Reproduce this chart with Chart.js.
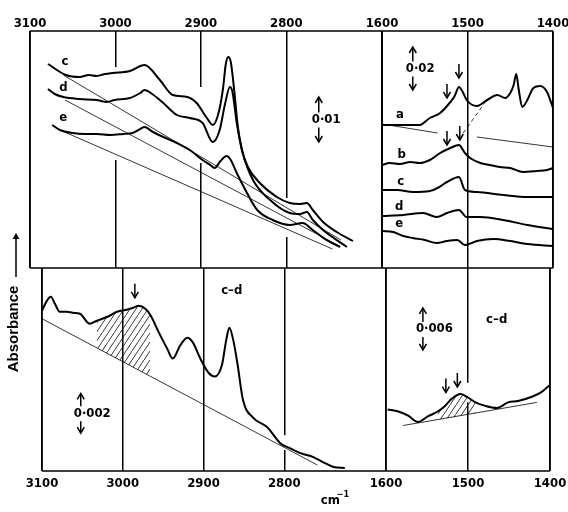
<!DOCTYPE html>
<html>
<head>
<meta charset="utf-8">
<title>IR difference spectra</title>
<script src="https://cdn.jsdelivr.net/npm/chart.js@4.4.1/dist/chart.umd.min.js"></script>
<style>
    body { margin: 0; background: #fff; }
    #wrap { position: relative; width: 568px; height: 512px; background: #fff; }
    #wrap canvas { position: absolute; left: 0; top: 0; }
</style>
</head>
<body>
<div id="wrap">
    <canvas id="tl" width="568" height="512"></canvas>
    <canvas id="tr" width="568" height="512"></canvas>
    <canvas id="bl" width="568" height="512"></canvas>
    <canvas id="br" width="568" height="512"></canvas>
</div>
<script>
// wavenumbers (cm-1) and absorbance (arbitrary units)

// top left: 3100-2700 region, spectra c, d, e
const tlTicks = [3100, 3000, 2900, 2800];
const cWn = [3079, 3058, 3042, 3031, 3022, 3012, 3003, 2983, 2966, 2948, 2933, 2916, 2905, 2893, 2886, 2879, 2874, 2871, 2868, 2865, 2861, 2857, 2852, 2845, 2831, 2811, 2796, 2784, 2776, 2769, 2757, 2741, 2722];
const cAbs = [51, 48.25, 47.75, 48.25, 48, 48.5, 48.75, 49.25, 50.75, 47, 43.25, 42.75, 41.25, 37.5, 35.75, 39, 45, 50.75, 52.75, 51.5, 44.5, 35.75, 29.5, 25.25, 21.25, 17.75, 16.25, 16, 16.25, 14.5, 11.5, 9, 6.75];
const dWn = [3079, 3071, 3061, 3042, 3022, 3010, 3001, 2983, 2971, 2966, 2957, 2944, 2928, 2913, 2898, 2886, 2878, 2872, 2866, 2863, 2858, 2851, 2839, 2819, 2796, 2784, 2776, 2769, 2757, 2729];
const dAbs = [44.75, 43.5, 42.75, 42.25, 42, 41.5, 42, 42.5, 43.75, 44.5, 43.5, 41.25, 38.25, 37.5, 36.25, 31.5, 34.5, 40.75, 45.25, 44, 36.25, 28.75, 22, 17, 13.75, 13.5, 14, 12, 9.5, 5.25];
const eWn = [3074, 3065, 3050, 3036, 3022, 3006, 2991, 2980, 2971, 2966, 2956, 2944, 2928, 2913, 2898, 2889, 2884, 2877, 2870, 2865, 2858, 2846, 2834, 2816, 2796, 2781, 2769, 2753, 2737];
const eAbs = [35.75, 34.5, 33.75, 33.5, 33.5, 33.25, 33.5, 33.75, 34.75, 35.25, 34, 32.75, 31.25, 29.5, 27, 25.75, 25, 26.75, 28, 27, 23.75, 18.75, 14.5, 12, 10.75, 11.25, 9.5, 7, 5.25];
const cBaseWn = [3061, 2736];
const cBaseAbs = [48.25, 7];
const dBaseWn = [3059, 2740];
const dBaseAbs = [42, 5.75];
const eBaseWn = [3065, 2746];
const eBaseAbs = [34.5, 4.75];

// top right: 1600-1400 region, spectra a-e
const trTicks = [1600, 1500, 1400];
const aWn = [1600, 1585, 1556, 1544, 1532, 1520, 1515, 1510, 1505, 1501, 1489, 1477, 1465, 1456, 1450, 1446, 1443, 1440, 1436, 1430, 1423, 1415, 1407, 1400];
const aAbs = [71.5, 71.5, 71.5, 75, 77.5, 83, 86, 90.5, 87.5, 84, 81, 84, 86.5, 85, 87.5, 91.5, 97, 89, 80.5, 84, 90, 91, 88, 80];
const bWn = [1600, 1591, 1579, 1567, 1556, 1544, 1532, 1520, 1510, 1503, 1497, 1485, 1474, 1462, 1450, 1435, 1419, 1407, 1400];
const bAbs = [51.5, 52.5, 52, 53, 52.5, 54, 57.5, 60, 61.5, 57.5, 55, 52.5, 51.5, 50.5, 50, 48, 48.5, 49, 50];
const c2Wn = [1600, 1582, 1564, 1544, 1535, 1524, 1510, 1503, 1489, 1458, 1430, 1400];
const c2Abs = [39, 39, 38, 38.5, 40, 43, 45.5, 39, 38, 36.5, 35.5, 35.5];
const d2Wn = [1600, 1575, 1552, 1536, 1524, 1510, 1501, 1485, 1458, 1430, 1400];
const d2Abs = [26, 26.5, 27.5, 25.5, 27.5, 29, 25.5, 25.5, 24, 21.5, 19.5];
const e2Wn = [1600, 1587, 1575, 1564, 1550, 1536, 1524, 1512, 1503, 1489, 1470, 1450, 1430, 1400];
const e2Abs = [18.5, 18, 16, 15, 14, 12.5, 13.5, 14, 11.5, 13.5, 14.5, 13.5, 12, 11];
const aBaseWn = [1600, 1535, 1512, 1489, 1400];
const aBaseAbs = [72, 67.5, null, 65.5, 60.5];
const aDashWn = [1505, 1480];
const aDashAbs = [67.5, 82.5];

// bottom left: difference spectrum c-d, 3100-2700
const blTicks = [3100, 3000, 2900, 2800];
const cdWn = [3100, 3094, 3089, 3084, 3078, 3069, 3062, 3053, 3041, 3032, 3019, 3007, 2995, 2987, 2980, 2972, 2966, 2954, 2945, 2938, 2929, 2920, 2913, 2904, 2894, 2886, 2877, 2872, 2868, 2863, 2858, 2851, 2839, 2821, 2805, 2793, 2780, 2764, 2752, 2739, 2725];
const cdAbs = [80, 85, 87, 83.5, 79.5, 79.5, 79, 78.5, 73.5, 75, 77, 79.5, 80.5, 81.5, 82.5, 81, 78, 68, 61, 56, 62.5, 66.5, 64, 56, 49, 47, 53, 65, 71.5, 65, 53.5, 35, 26.5, 21.5, 13.5, 11, 8.5, 6.5, 4, 1.5, 1];
const cdBaseWn = [3100, 2759];
const cdBaseAbs = [76, 2.5];

// bottom right: difference spectrum c-d, 1600-1400
const brTicks = [1600, 1500, 1400];
const cd2Wn = [1598, 1585, 1573, 1561, 1549, 1537, 1528, 1520, 1509, 1500, 1491, 1479, 1465, 1451, 1439, 1422, 1410, 1400];
const cd2Abs = [8.9, 8.6, 8.0, 7.1, 7.9, 8.6, 9.4, 10.4, 11.1, 10.6, 9.9, 9.4, 9.1, 9.9, 10.1, 10.7, 11.4, 12.4];
const cd2BaseWn = [1579, 1416];
const cd2BaseAbs = [6.6, 9.9];

const FONT = "'DejaVu Sans Condensed', 'Liberation Sans', sans-serif";

function pts(wn, ab) {
    return wn.map((w, i) => ({ x: w, y: ab[i] }));
}

function curve(wn, ab) {
    return { data: pts(wn, ab), borderColor: '#000', borderWidth: 2, pointRadius: 0, cubicInterpolationMode: 'monotone', fill: false };
}

function thin(wn, ab, dash) {
    return { data: pts(wn, ab), borderColor: '#000', borderWidth: 0.8, pointRadius: 0, fill: false, spanGaps: false, borderDash: dash || [] };
}

// part of a curve between two wavenumbers, filled with hatching down to dataset `target`
function hatched(wn, ab, lo, hi, target, pattern) {
    const data = pts(wn, ab).filter(p => p.x >= lo && p.x <= hi);
    return { data, borderWidth: 0, pointRadius: 0, cubicInterpolationMode: 'monotone', fill: target, backgroundColor: pattern };
}

function hatchPattern() {
    const c = document.createElement('canvas');
    c.width = 6;
    c.height = 9;
    const g = c.getContext('2d');
    g.strokeStyle = '#000';
    g.lineWidth = 0.8;
    g.beginPath();
    g.moveTo(-1, 10.5);
    g.lineTo(7, -1.5);
    g.stroke();
    return g.createPattern(c, 'repeat');
}

function drawArrow(ctx, x, from, to, solid) {
    const dir = to > from ? 1 : -1;
    ctx.lineWidth = 1.5;
    ctx.beginPath();
    ctx.moveTo(x, from);
    ctx.lineTo(x, to - dir);
    ctx.stroke();
    ctx.beginPath();
    ctx.moveTo(x - 3.5, to - dir * 6);
    ctx.lineTo(x, to);
    ctx.lineTo(x + 3.5, to - dir * 6);
    if (solid) {
        ctx.closePath();
        ctx.fill();
    } else {
        ctx.stroke();
    }
}

const framePlugin = {
    id: 'frame',
    // the printed grid lines are broken where the plates were pasted up
    beforeDatasetsDraw(chart, args, opts) {
        const ctx = chart.ctx;
        ctx.save();
        ctx.fillStyle = '#fff';
        (opts.gaps || []).forEach(g => {
            const x = chart.scales.x.getPixelForValue(g.x);
            const y0 = chart.scales.y.getPixelForValue(g.from);
            const y1 = chart.scales.y.getPixelForValue(g.to);
            ctx.fillRect(x - 2, y0, 4, y1 - y0);
        });
        ctx.restore();
    },
    afterDraw(chart, args, opts) {
        const { ctx, chartArea: a } = chart;
        const s = opts.sides || [];
        ctx.save();
        ctx.strokeStyle = '#000';
        ctx.lineWidth = 1.5;
        ctx.beginPath();
        if (s.includes('top')) { ctx.moveTo(a.left, a.top); ctx.lineTo(a.right, a.top); }
        if (s.includes('bottom')) { ctx.moveTo(a.left, a.bottom); ctx.lineTo(a.right, a.bottom); }
        if (s.includes('left')) { ctx.moveTo(a.left, a.top); ctx.lineTo(a.left, a.bottom); }
        if (s.includes('right')) { ctx.moveTo(a.right, a.top); ctx.lineTo(a.right, a.bottom); }
        ctx.stroke();
        ctx.restore();
    }
};

// curve letters, pointer arrows and the absorbance scale bars
const notesPlugin = {
    id: 'notes',
    afterDraw(chart, args, opts) {
        const ctx = chart.ctx;
        const px = v => chart.scales.x.getPixelForValue(v);
        const py = v => chart.scales.y.getPixelForValue(v);
        ctx.save();
        ctx.fillStyle = '#000';
        ctx.strokeStyle = '#000';
        ctx.font = `bold 13px ${FONT}`;
        ctx.textBaseline = 'middle';
        (opts.labels || []).forEach(l => {
            ctx.textAlign = 'center';
            ctx.fillText(l.text, px(l.x), py(l.y));
        });
        (opts.arrows || []).forEach(a => {
            drawArrow(ctx, px(a.x), py(a.y) - 14, py(a.y));
        });
        (opts.bars || []).forEach(b => {
            const x = px(b.x), top = py(b.top), bottom = py(b.bottom), mid = (top + bottom) / 2;
            ctx.textAlign = 'left';
            ctx.fillText(b.text, x - 7, mid);
            drawArrow(ctx, x, mid - 7, top);
            drawArrow(ctx, x, mid + 8, bottom);
        });
        if (opts.extra) opts.extra(chart, ctx);
        ctx.restore();
    }
};

function makePanel(id, p) {
    const ctx = document.getElementById(id).getContext('2d');
    return new Chart(ctx, {
        type: 'line',
        data: { datasets: p.datasets },
        options: {
            responsive: false,
            animation: false,
            events: [],
            layout: { padding: p.padding },
            plugins: {
                legend: { display: false },
                tooltip: { enabled: false },
                frame: { sides: p.sides, gaps: p.gaps },
                notes: p.notes
            },
            scales: {
                x: {
                    type: 'linear',
                    reverse: true,
                    min: p.xMin,
                    max: p.xMax,
                    position: p.axisPos,
                    afterBuildTicks: s => { s.ticks = p.ticks.map(v => ({ value: v })); },
                    afterFit: s => { s.height = 30; s.paddingLeft = 0; s.paddingRight = 0; },
                    ticks: {
                        color: '#000',
                        font: { family: FONT, size: 13, weight: 'bold' },
                        padding: p.tickPad,
                        maxRotation: 0,
                        autoSkip: false,
                        callback: v => String(v)
                    },
                    grid: { color: '#000', lineWidth: 1.5, drawTicks: false },
                    border: { display: false }
                },
                y: { display: false, min: p.yMin, max: p.yMax }
            }
        },
        plugins: [framePlugin, notesPlugin]
    });
}

const hatch = hatchPattern();

makePanel('tl', {
    xMin: 2688, xMax: 3100, yMin: 0, yMax: 59.25,
    ticks: tlTicks, axisPos: 'top', tickPad: 0,
    padding: { left: 30, right: 186, top: 1, bottom: 244 },
    sides: ['top', 'bottom', 'left', 'right'],
    gaps: [
        { x: 3000, from: 50.25, to: 27 },
        { x: 2900, from: 45.25, to: 26.25 },
        { x: 2800, from: 17.5, to: 7.75 }
    ],
    datasets: [
        curve(cWn, cAbs), curve(dWn, dAbs), curve(eWn, eAbs),
        thin(cBaseWn, cBaseAbs), thin(dBaseWn, dBaseAbs), thin(eBaseWn, eBaseAbs)
    ],
    notes: {
        labels: [
            { text: 'c', x: 3059, y: 51.5 },
            { text: 'd', x: 3061, y: 45 },
            { text: 'e', x: 3061, y: 37.5 }
        ],
        bars: [{ text: '0·01', x: 2762, top: 42.75, bottom: 31.5 }]
    }
});

makePanel('tr', {
    xMin: 1400, xMax: 1600, yMin: 0, yMax: 118.5,
    ticks: trTicks, axisPos: 'top', tickPad: 0,
    padding: { left: 382, right: 15, top: 1, bottom: 244 },
    sides: ['top', 'bottom', 'left', 'right'],
    datasets: [
        curve(aWn, aAbs), curve(bWn, bAbs), curve(c2Wn, c2Abs), curve(d2Wn, d2Abs), curve(e2Wn, e2Abs),
        thin(aBaseWn, aBaseAbs), thin(aDashWn, aDashAbs, [4, 3])
    ],
    notes: {
        labels: [
            { text: 'a', x: 1579, y: 76.5 },
            { text: 'b', x: 1577, y: 56.5 },
            { text: 'c', x: 1578, y: 43 },
            { text: 'd', x: 1580, y: 30.5 },
            { text: 'e', x: 1580, y: 22 }
        ],
        arrows: [
            { x: 1524, y: 85 }, { x: 1510, y: 95 },
            { x: 1524, y: 61.5 }, { x: 1509, y: 64 }
        ],
        bars: [{ text: '0·02', x: 1564, top: 110.5, bottom: 89 }]
    }
});

makePanel('bl', {
    xMin: 2674, xMax: 3100, yMin: -0.5, yMax: 101.5,
    ticks: blTicks, axisPos: 'bottom', tickPad: 5,
    padding: { left: 42, right: 182, top: 268, bottom: 11 },
    sides: ['bottom', 'left'],
    gaps: [{ x: 2800, from: 17.5, to: 10 }],
    datasets: [
        curve(cdWn, cdAbs),
        thin(cdBaseWn, cdBaseAbs),
        hatched(cdWn, cdAbs, 2962, 3033, 1, hatch)
    ],
    notes: {
        labels: [{ text: 'c–d', x: 2865, y: 90 }],
        arrows: [{ x: 2985, y: 86.5 }],
        bars: [{ text: '0·002', x: 3052, top: 38.5, bottom: 18.5 }],
        extra: (chart, ctx) => {
            const a = chart.chartArea;
            // y axis caption with its arrow
            ctx.save();
            ctx.translate(a.left - 28, a.top + 61);
            ctx.rotate(-Math.PI / 2);
            ctx.font = `bold 15px 'Liberation Sans', sans-serif`;
            ctx.textAlign = 'center';
            ctx.fillText('Absorbance', 0, 0);
            ctx.restore();
            drawArrow(ctx, a.left - 26, a.top + 9, a.top - 35, true);
            // unit under the axis
            const x = chart.scales.x.getPixelForValue(2740);
            ctx.textAlign = 'left';
            ctx.font = `bold 13px ${FONT}`;
            ctx.fillText('cm', x - 12, a.bottom + 30);
            ctx.font = `bold 9px ${FONT}`;
            ctx.fillText('−1', x + 4, a.bottom + 24);
        }
    }
});

makePanel('br', {
    xMin: 1400, xMax: 1600, yMin: 0.1, yMax: 29.1,
    ticks: brTicks, axisPos: 'bottom', tickPad: 5,
    padding: { left: 386, right: 18, top: 268, bottom: 11 },
    sides: ['bottom', 'left', 'right'],
    gaps: [{ x: 1500, from: 12.7, to: 9.9 }],
    datasets: [
        curve(cd2Wn, cd2Abs),
        thin(cd2BaseWn, cd2BaseAbs),
        hatched(cd2Wn, cd2Abs, 1491, 1540, 1, hatch)
    ],
    notes: {
        labels: [{ text: 'c–d', x: 1465, y: 21.7 }],
        arrows: [{ x: 1527, y: 11.3 }, { x: 1513, y: 12.1 }],
        bars: [{ text: '0·006', x: 1555, top: 23.4, bottom: 17.4 }]
    }
});
</script>
</body>
</html>
